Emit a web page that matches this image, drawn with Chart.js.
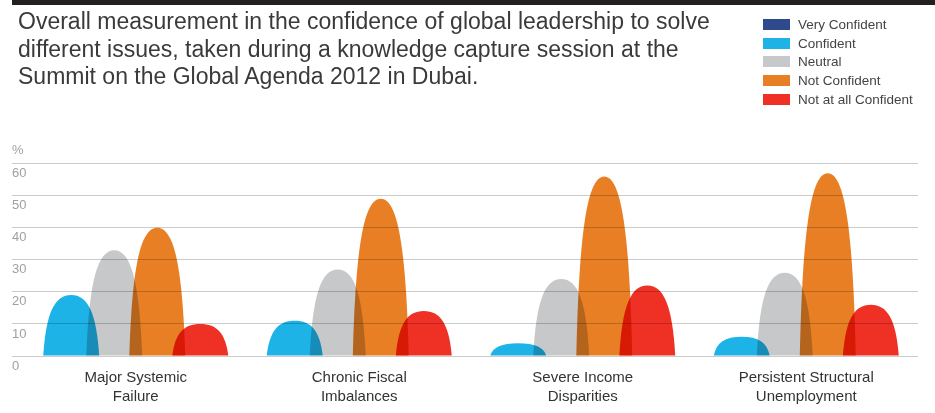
<!DOCTYPE html>
<html>
<head>
<meta charset="utf-8">
<script src="https://cdn.jsdelivr.net/npm/chart.js@4/dist/chart.umd.min.js"></script>
<style>
   html, body { margin: 0; padding: 0; background: #fff; }
   body { width: 935px; height: 413px; position: relative; overflow: hidden;
          font-family: "Liberation Sans", Arial, sans-serif; }
   #topbar { position: absolute; left: 12px; top: 0; width: 923px; height: 5px; background: #231f20; }
   #title { position: absolute; left: 18px; top: 8px; font-size: 23px; line-height: 27.5px; color: #3a3a3a; }
   #legend { position: absolute; left: 763px; top: 19px; }
   #legend .item { height: 18.7px; display: flex; align-items: flex-start; }
   #legend .sw { width: 27px; height: 11px; margin-right: 8px; }
   #legend .lbl { font-size: 13.5px; line-height: 11px; color: #444; }
   #wrap { position: absolute; left: 0; top: 0; width: 935px; height: 413px; }
</style>
</head>
<body>
<div id="wrap"><canvas id="canvasConf"></canvas></div>
<div id="topbar"></div>
<div id="title">Overall measurement in the confidence of global leadership to solve<br>different issues, taken during a knowledge capture session at the<br>Summit on the Global Agenda 2012 in Dubai.</div>
<div id="legend"></div>
<script>

/* data (%) */
const categories = [
   ["Major Systemic", "Failure"],
   ["Chronic Fiscal", "Imbalances"],
   ["Severe Income", "Disparities"],
   ["Persistent Structural", "Unemployment"]
];
const seriesNames = ["Very Confident", "Confident", "Neutral", "Not Confident", "Not at all Confident"];
const veryConfident = [null, null, null, null];
const confident = [19, 11, 4, 6];
const neutral = [33, 27, 24, 26];
const notConfident = [40, 49, 56, 57];
const notAtAll = [10, 14, 22, 16];
const yTicks = [0, 10, 20, 30, 40, 50, 60];

const colors = ["#2e4a8c", "#1db3e6", "#c7c8ca", "#e87f24", "#ee3124"];

Chart.defaults.font.family = '"Liberation Sans", Arial, sans-serif';

/* draws every bar as a rounded spire, overlaps multiplied */
const archPlugin = {
   id: "arches",
   beforeDatasetsDraw(chart) {
      let ctx = chart.ctx;
      ctx.save();
      ctx.globalCompositeOperation = "multiply";
      chart.data.datasets.forEach((ds, di) => {
         let meta = chart.getDatasetMeta(di);
         meta.data.forEach((bar, i) => {
            if (ds.data[i] == null)
               return;
            let {x, y, base, width} = bar.getProps(["x", "y", "base", "width"], true);
            let w = width * 1.3, h = base - y;
            ctx.beginPath();
            ctx.moveTo(x - w / 2, base);
            ctx.bezierCurveTo(x - 0.45 * w, base - 0.7 * h, x - 0.3 * w, y, x, y);
            ctx.bezierCurveTo(x + 0.3 * w, y, x + 0.45 * w, base - 0.7 * h, x + w / 2, base);
            ctx.closePath();
            ctx.fillStyle = ds.backgroundColor;
            ctx.fill();
         });
      });
      ctx.restore();
      return false;
   }
};

function makeDataset(i, values) {
   return {
      label: seriesNames[i],
      data: values,
      backgroundColor: colors[i],
      borderWidth: 0,
      skipNull: true
   };
}

let datasets = [
   makeDataset(0, veryConfident),
   makeDataset(1, confident),
   makeDataset(2, neutral),
   makeDataset(3, notConfident),
   makeDataset(4, notAtAll)
];

let conf = {
   type: "bar",
   data: { labels: categories, datasets: datasets },
   options: {
      responsive: false,
      animation: false,
      categoryPercentage: 0.77,
      barPercentage: 1.0,
      layout: { padding: { left: 12, right: 17, bottom: -6, top: 0 } },
      scales: {
         x: {
            grid: { display: false, drawTicks: false },
            border: { display: false },
            ticks: {
               color: "#333",
               font: { size: 15, lineHeight: 1.3 },
               padding: 12,
               maxRotation: 0,
               autoSkip: false
            }
         },
         y: {
            min: 0,
            max: 60,
            afterFit: (scale) => { scale.width = 12; },
            afterBuildTicks: (scale) => { scale.ticks = yTicks.map(v => ({value: v})); },
            border: { display: false },
            grid: { color: "#cbcbcb", lineWidth: 1, drawTicks: true, tickLength: 12 },
            ticks: {
               color: "#a0a0a0",
               font: { size: 13 },
               mirror: true,
               labelOffset: 10,
               padding: -12
            }
         }
      },
      plugins: {
         legend: { display: false },
         tooltip: { enabled: false },
         title: {
            display: true,
            text: "%",
            align: "start",
            color: "#a0a0a0",
            font: { size: 13, weight: "normal" },
            padding: { top: 143, bottom: 5 }
         }
      }
   },
   plugins: [archPlugin]
};

let canvas = document.getElementById("canvasConf");
canvas.width = 935;
canvas.height = 413;
let chart = new Chart(canvas, conf);

/* - - legend from the datasets */
let lg = document.getElementById("legend");
chart.data.datasets.forEach(ds => {
   let row = document.createElement("div");
   row.className = "item";
   row.innerHTML = `<span class="sw" style="background:${ds.backgroundColor}"></span><span class="lbl">${ds.label}</span>`;
   lg.appendChild(row);
});

</script>
</body>
</html>
